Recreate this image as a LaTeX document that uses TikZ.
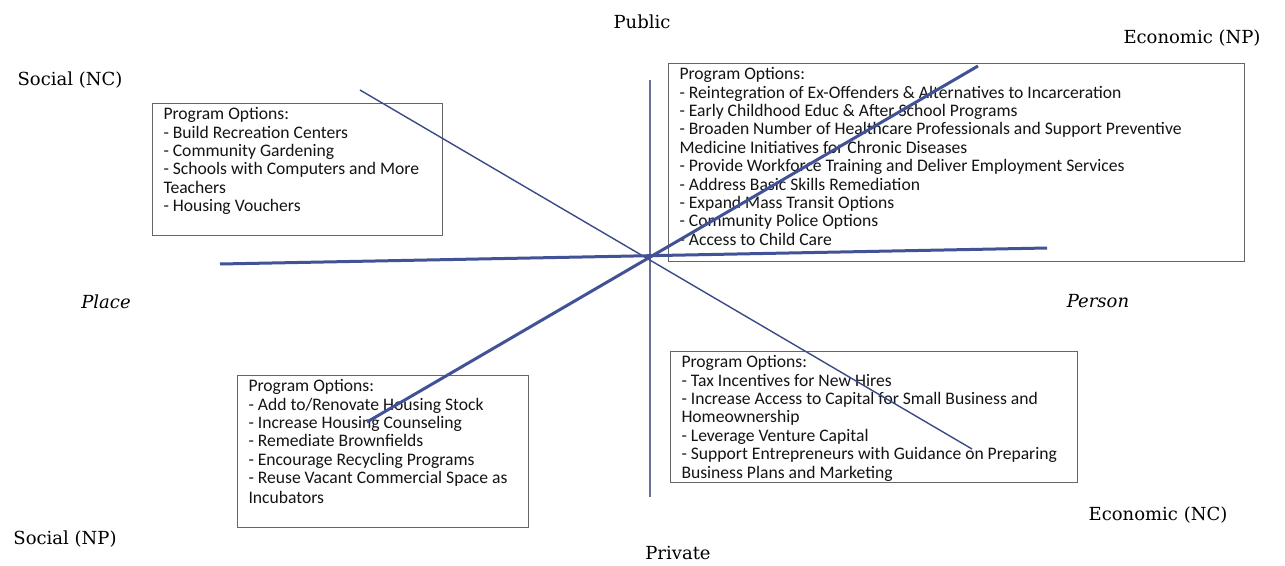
\documentclass[tikz,border=0pt]{standalone}
\usepackage{fontspec}
\setmainfont{DejaVu Serif}
\newfontfamily\boxfont{Carlito}
\begin{document}
\begin{tikzpicture}[x=1pt,y=-1pt,
  axislabel/.style={font=\fontsize{18}{21}\selectfont, text=black, inner sep=0pt},
  sidelabel/.style={font=\fontsize{18}{21}\selectfont\itshape, text=black, inner sep=0pt},
  progbox/.style={draw=black!60, line width=1pt, anchor=north west, inner xsep=11pt, inner ysep=4pt,
     font=\boxfont\fontsize{17.6}{18.4}\selectfont, text=black!92},
  thickline/.style={draw=lineblue, line width=3pt},
  thinline/.style={draw=lineblue!90!black, line width=1.4pt},
  vline/.style={draw=vgray, line width=1.6pt}
]
\definecolor{lineblue}{RGB}{66,82,150}
\definecolor{vgray}{RGB}{105,112,150}
\useasboundingbox (0,0) rectangle (1285,565);
\fill[white] (0,0) rectangle (1285,565);

% labels
\node[axislabel] (public) at (642,22) {Public};
\node[axislabel] (private) at (678,553) {Private};
\node[axislabel] (socnc) at (70,80) {Social (NC)};
\node[axislabel] (socnp) at (65,539) {Social (NP)};
\node[axislabel] (econp) at (1192,38) {Economic (NP)};
\node[axislabel] (econc) at (1158,515) {Economic (NC)};
\node[sidelabel] (place) at (106,302) {Place};
\node[sidelabel] (person) at (1098,301) {Person};

% boxes
\node[progbox] (tl) at (152,103) {\begin{minipage}[t][124pt][t]{268pt}\raggedright
Program Options:\\
- Build Recreation Centers\\
- Community Gardening\\
- Schools with Computers and More\\
Teachers\\
- Housing Vouchers\end{minipage}};

\node[progbox] (tr) at (668,63) {\begin{minipage}[t][190pt][t]{554pt}\raggedright
Program Options:\\
- Reintegration of Ex-Offenders \& Alternatives to Incarceration\\
- Early Childhood Educ \& After School Programs\\
- Broaden Number of Healthcare Professionals and Support Preventive\\
Medicine Initiatives for Chronic Diseases\\
- Provide Workforce Training and Deliver Employment Services\\
- Address Basic Skills Remediation\\
- Expand Mass Transit Options\\
- Community Police Options\\
- Access to Child Care\end{minipage}};

\node[progbox] (bl) at (237,375) {\begin{minipage}[t][144pt][t]{269pt}\raggedright
Program Options:\\
- Add to/Renovate Housing Stock\\
- Increase Housing Counseling\\
- Remediate Brownfields\\
- Encourage Recycling Programs\\
- Reuse Vacant Commercial Space as\\[1pt]
Incubators\end{minipage}};

\node[progbox] (br) at (670,351) {\begin{minipage}[t][123pt][t]{385pt}\raggedright
Program Options:\\
- Tax Incentives for New Hires\\
- Increase Access to Capital for Small Business and\\
Homeownership\\
- Leverage Venture Capital\\
- Support Entrepreneurs with Guidance on Preparing\\
Business Plans and Marketing\end{minipage}};

% axis end points
\coordinate (vtop) at (650,80);
\coordinate (vbot) at (650,497);
\coordinate (hleft) at (220,264);
\coordinate (hright) at (1047,248);
\coordinate (dthickA) at (367,422);
\coordinate (dthickB) at (978,66);
\coordinate (dthinA) at (360,90);
\coordinate (dthinB) at (972,449);

\draw[vline] (vtop) -- (vbot);
\draw[thinline] (dthinA) -- (dthinB);
\draw[thickline] (hleft) -- (hright);
\draw[thickline] (dthickA) -- (dthickB);
\end{tikzpicture}
\end{document}
